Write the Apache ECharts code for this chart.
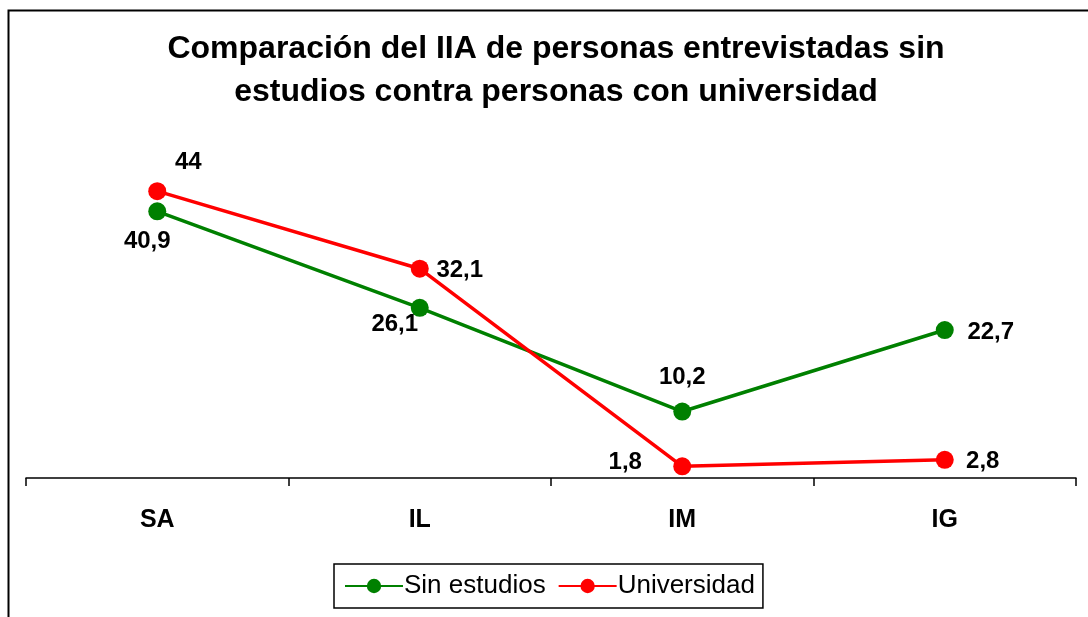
<!DOCTYPE html>
<html>
<head>
<meta charset="utf-8">
<script src="https://cdn.jsdelivr.net/npm/echarts@6/dist/echarts.min.js"></script>
<style>
  html, body { margin: 0; padding: 0; background: #fff; }
  #chart { width: 1088px; height: 617px; }
</style>
</head>
<body>
<div id="chart"></div>
<script>
// categorias y valores
var categories = ['SA', 'IL', 'IM', 'IG'];
var sinEstudios = [40.9, 26.1, 10.2, 22.7];
var universidad = [44, 32.1, 1.8, 2.8];
var seriesNames = ['Sin estudios', 'Universidad'];

// desplazamiento de cada etiqueta respecto al punto (estilo, no datos)
var greenLabelOffset = [[-10, 30], [-25, 17], [0, -34], [46, 2]];
var redLabelOffset = [[31, -29], [40, 2], [-57, -4], [38, 2]];

function buildData(values, offsets) {
  return values.map(function (v, i) {
    return {
      value: v,
      label: { position: 'inside', offset: offsets[i] }
    };
  });
}

function fmt(p) {
  return String(p.value).replace('.', ',');
}

var labelStyle = {
  show: true,
  formatter: fmt,
  fontFamily: 'Liberation Sans',
  fontWeight: 'bold',
  fontSize: 24,
  color: '#000'
};

var chart = echarts.init(document.getElementById('chart'));

var option = {
  backgroundColor: '#fff',
  animation: false,
  title: {
    text: 'Comparación del IIA de personas entrevistadas sin\nestudios contra personas con universidad',
    left: 551,
    textAlign: 'center',
    top: 23,
    textStyle: {
      fontFamily: 'Liberation Sans',
      fontWeight: 'bold',
      fontSize: 32,
      lineHeight: 43,
      color: '#000'
    }
  },
  legend: {
    data: seriesNames,
    left: 334,
    top: 564,
    orient: 'horizontal',
    borderColor: '#000',
    borderWidth: 1.5,
    borderRadius: 0,
    padding: [9, 8, 9, 10],
    itemGap: 12,
    itemWidth: 58,
    itemHeight: 18,
    textStyle: {
      fontFamily: 'Liberation Sans',
      fontSize: 26,
      color: '#000',
      padding: [0, 0, 0, -4]
    }
  },
  grid: {
    left: 26,
    right: 12,
    top: 152,
    bottom: 137
  },
  xAxis: {
    type: 'category',
    data: categories,
    boundaryGap: true,
    axisLine: { lineStyle: { color: '#000', width: 1.5 } },
    axisTick: { show: true, length: 8, lineStyle: { color: '#000', width: 1.5 } },
    axisLabel: {
      margin: 28,
      fontFamily: 'Liberation Sans',
      fontWeight: 'bold',
      fontSize: 25,
      color: '#000'
    }
  },
  yAxis: {
    type: 'value',
    min: -0.3,
    max: 50,
    show: false,
    splitLine: { show: false }
  },
  graphic: [{
    type: 'rect',
    left: 6,
    top: 8,
    shape: { width: 1200, height: 700 },
    style: { fill: 'none', stroke: '#000', lineWidth: 2 },
    silent: true
  }],
  series: [{
    name: seriesNames[0],
    type: 'line',
    data: buildData(sinEstudios, greenLabelOffset),
    color: '#008000',
    symbol: 'circle',
    symbolSize: 18,
    lineStyle: { width: 3.5, color: '#008000' },
    itemStyle: { color: '#008000' },
    label: labelStyle
  }, {
    name: seriesNames[1],
    type: 'line',
    data: buildData(universidad, redLabelOffset),
    color: '#ff0000',
    symbol: 'circle',
    symbolSize: 18,
    lineStyle: { width: 3.5, color: '#ff0000' },
    itemStyle: { color: '#ff0000' },
    label: labelStyle
  }]
};

chart.setOption(option);
</script>
</body>
</html>
